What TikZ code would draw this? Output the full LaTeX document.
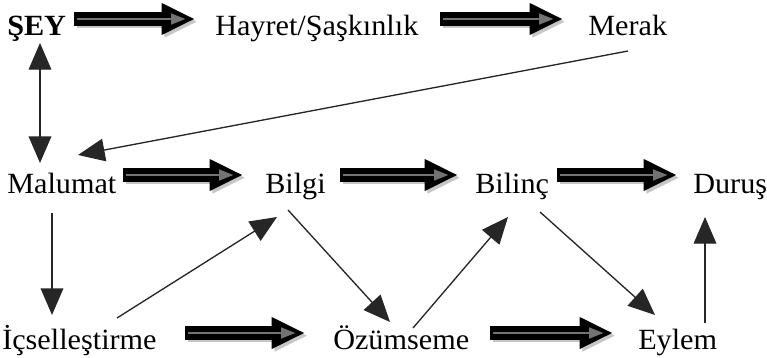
\documentclass[tikz,border=0pt]{standalone}
\usepackage{fontspec}
\setmainfont{Liberation Serif}[FakeStretch=1.03]
\usetikzlibrary{arrows.meta}

\begin{document}
\begin{tikzpicture}[x=0.75pt,y=-0.75pt,
        word/.style={anchor=base west, inner sep=0, font=\fontsize{22pt}{26pt}\selectfont},
        fatarrow/.style={line width=10pt, black, -{Triangle[length=25pt,width=22pt]},
            preaction={draw=gray!45, line width=10pt, -{Triangle[length=25pt,width=22pt]}, transform canvas={shift={(2pt,-2pt)}}},
            postaction={draw=black!55, line width=2pt, shorten <=2pt, shorten >=7pt, -{Triangle[length=11pt,width=8pt]}}},
        thinarrow/.style={draw=black!85, line width=1pt, -{Triangle[length=20pt,width=17pt]}}]
        \useasboundingbox (0,0) rectangle (767,357);

        % words
        \node[word] (sey) at (7,36) {\bfseries ŞEY};
        \node[word] (hayret) at (215,36) {Hayret/Şaşkınlık};
        \node[word] (merak) at (588,36) {Merak};
        \node[word] (malumat) at (7,193) {Malumat};
        \node[word] (bilgi) at (265,193) {Bilgi};
        \node[word] (bilinc) at (475,193) {Bilinç};
        \node[word] (durus) at (693,193) {Duruş};
        \node[word] (icsel) at (2,349) {İçselleştirme};
        \node[word] (ozum) at (333,349) {Özümseme};
        \node[word] (eylem) at (638,349) {Eylem};

        % thick arrows
        \foreach \a/\sx/\b/\ex/\dy in {sey/67/hayret/-20/-17,hayret/225/merak/-25/-17,malumat/116/bilgi/-22/-18,bilgi/75/bilinc/-17/-18,bilinc/82/durus/-16/-18,icsel/183/ozum/-28/-16,ozum/157/eylem/-25/-16}
        {
            \draw[fatarrow] ([shift={(\sx,\dy)}]\a.base west) -- ([shift={(\ex,\dy)}]\b.base west);
        }

        % thin arrows
        \draw[thinarrow,{Triangle[length=20pt,width=17pt]}-{Triangle[length=20pt,width=17pt]}] ([shift={(33,7)}]sey.base west) -- ([shift={(33,-30)}]malumat.base west);
        \draw[thinarrow] ([shift={(45,20)}]malumat.base west) -- ([shift={(50,-34)}]icsel.base west);
        \draw[thinarrow] ([shift={(40,15)}]merak.base west) -- ([shift={(71,-38)}]malumat.base west);
        \draw[thinarrow] ([shift={(115,-31)}]icsel.base west) -- ([shift={(12,24)}]bilgi.base west);
        \draw[thinarrow] ([shift={(23,17)}]bilgi.base west) -- ([shift={(57,-27)}]ozum.base west);
        \draw[thinarrow] ([shift={(80,-21)}]ozum.base west) -- ([shift={(33,24)}]bilinc.base west);
        \draw[thinarrow] ([shift={(65,19)}]bilinc.base west) -- ([shift={(17,-34)}]eylem.base west);
        \draw[thinarrow] ([shift={(67,-26)}]eylem.base west) -- ([shift={(12,24)}]durus.base west);
    \end{tikzpicture}
\end{document}
